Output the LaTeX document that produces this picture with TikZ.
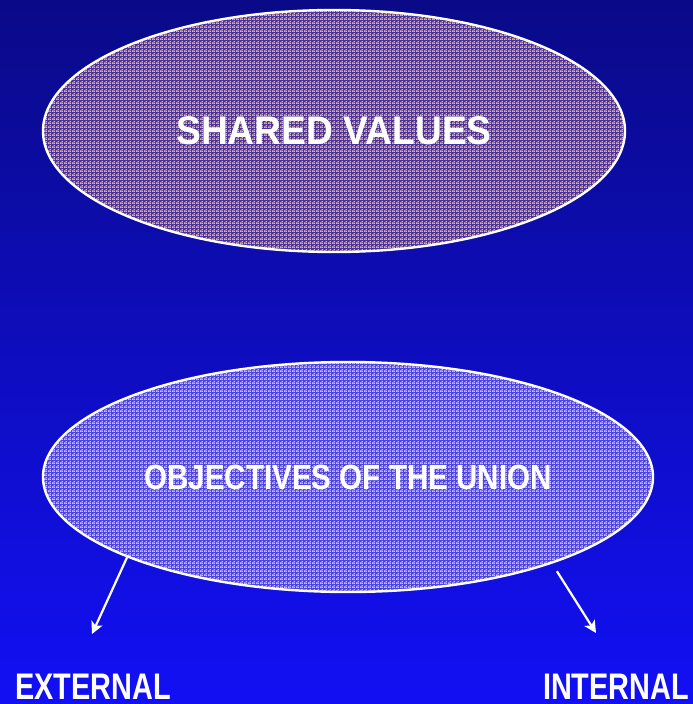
\documentclass[tikz,border=0pt]{standalone}
\usepackage{fontspec}
\setmainfont{Liberation Sans}
\usetikzlibrary{shapes.geometric,patterns.meta,arrows.meta}
\definecolor{bgtop}{RGB}{10,10,136}
\definecolor{bgbottom}{RGB}{18,16,244}
\definecolor{valuesbase}{RGB}{70,50,170}
\definecolor{valuesdots}{RGB}{240,182,118}
\definecolor{unionbase}{RGB}{70,70,235}
\definecolor{uniondots}{RGB}{225,185,215}
\tikzdeclarepattern{
  name=speckle,
  type=uncolored,
  bounding box={(0pt,0pt) and (4pt,4pt)},
  tile size={(4pt,4pt)},
  code={
    \fill (0pt,0pt) rectangle (2pt,2pt);
    \fill (2pt,2pt) rectangle (3.5pt,3.5pt);
    \fill (2.5pt,0pt) rectangle (3.5pt,1pt);
  }
}
\begin{document}
\begin{tikzpicture}[x=1pt,y=-1pt,
    blob/.style={ellipse,draw=white,line width=2.4pt,inner sep=0pt,text=white,font=\bfseries},
    caption/.style={text=white,inner sep=0pt,font=\bfseries\fontsize{37}{37}\selectfont},
    link/.style={->,white,line width=2.2pt,>={Stealth[length=12pt,width=12pt,inset=3pt]}}]
    % Background
    \shade[top color=bgtop,bottom color=bgbottom] (0,0) rectangle (693,704);
    \useasboundingbox (0,0) rectangle (693,704);

    % Ellipses
    \node[blob,minimum width=582pt,minimum height=242pt,
          preaction={fill=valuesbase},pattern=speckle,pattern color=valuesdots]
          (values) at (334,131) {\fontsize{40}{40}\selectfont\scalebox{0.93}[1]{SHARED VALUES}};
    \node[blob,minimum width=610pt,minimum height=230pt,
          preaction={fill=unionbase},pattern=speckle,pattern color=uniondots]
          (objectives) at (348,477) {\fontsize{35}{35}\selectfont\scalebox{0.845}[1]{OBJECTIVES OF THE UNION}};

    % Labels
    \node[caption] (external) at (93,687) {\scalebox{0.78}[1]{EXTERNAL}};
    \node[caption] (internal) at (616,687) {\scalebox{0.78}[1]{INTERNAL}};

    % Arrows
    \coordinate (external tip) at (92,634);
    \coordinate (internal tip) at (596,633);
    \draw[link] (objectives.200) -- (external tip);
    \draw[link,shorten <=9pt] (objectives.337.5) -- (internal tip);
\end{tikzpicture}
\end{document}
